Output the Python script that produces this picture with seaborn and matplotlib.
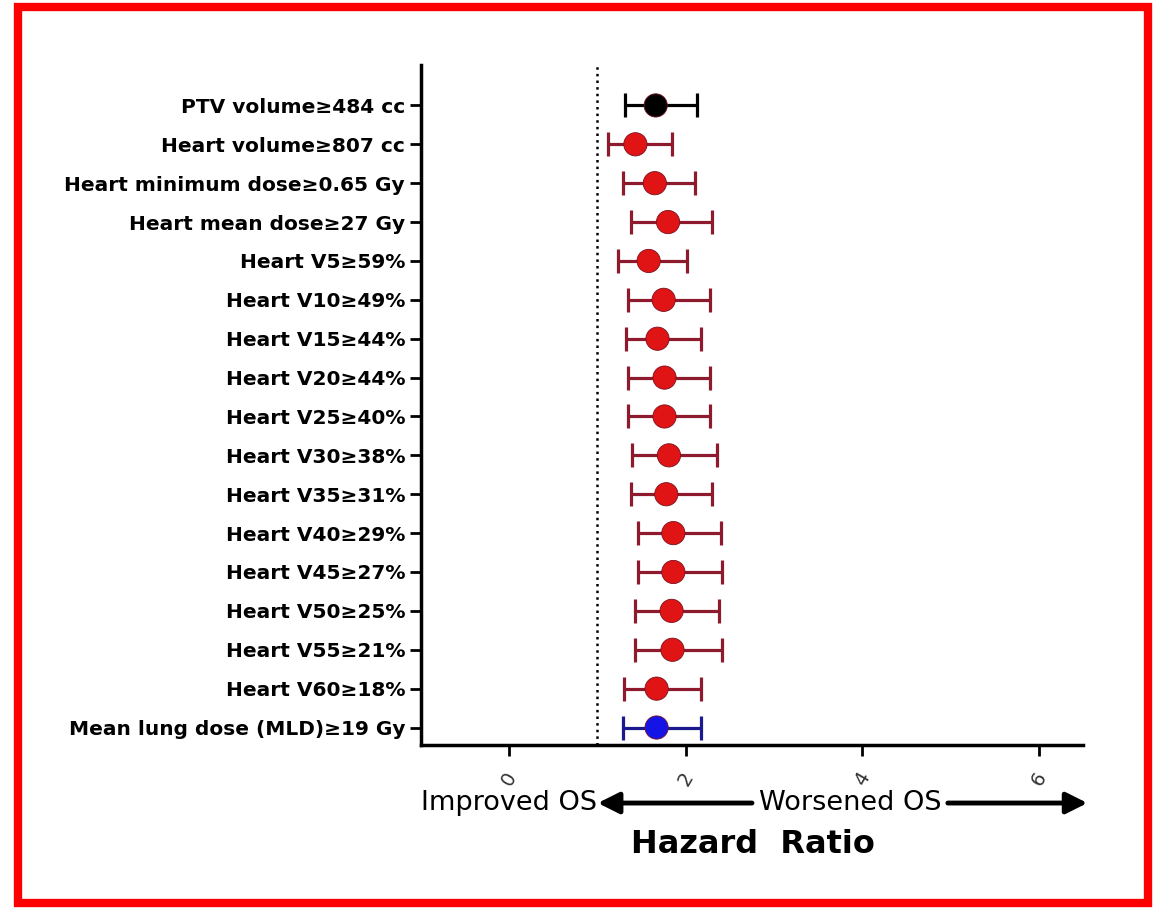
import pandas as pd
import matplotlib.pyplot as plt
import seaborn as sns
from matplotlib.patches import Rectangle

# datos
labels = ['PTV volume≥484 cc', 'Heart volume≥807 cc', 'Heart minimum dose≥0.65 Gy',
          'Heart mean dose≥27 Gy', 'Heart V5≥59%', 'Heart V10≥49%', 'Heart V15≥44%',
          'Heart V20≥44%', 'Heart V25≥40%', 'Heart V30≥38%', 'Heart V35≥31%',
          'Heart V40≥29%', 'Heart V45≥27%', 'Heart V50≥25%', 'Heart V55≥21%',
          'Heart V60≥18%', 'Mean lung dose (MLD)≥19 Gy']
hr = [1.66, 1.43, 1.65, 1.80, 1.58, 1.75, 1.68, 1.76, 1.76, 1.81, 1.78,
      1.86, 1.86, 1.84, 1.85, 1.67, 1.67]
ci_low = [1.31, 1.12, 1.29, 1.38, 1.23, 1.35, 1.32, 1.35, 1.35, 1.39, 1.38,
          1.46, 1.46, 1.43, 1.43, 1.30, 1.29]
ci_high = [2.13, 1.84, 2.11, 2.30, 2.02, 2.27, 2.17, 2.28, 2.28, 2.35, 2.30,
           2.40, 2.41, 2.38, 2.41, 2.17, 2.17]
grupo = ['PTV'] + ['Heart'] * 15 + ['Lung']
xticks = [0, 2, 4, 6]

df = pd.DataFrame({'label': labels, 'hr': hr, 'lo': ci_low, 'hi': ci_high, 'grupo': grupo})
df['pos'] = range(len(df))

fill = {'PTV': '#000000', 'Heart': '#e01414', 'Lung': '#1414e6'}
bar_col = {'PTV': '#000000', 'Heart': '#8e1a2e', 'Lung': '#1a1a8e'}

sns.set_style('ticks')
plt.rcParams['font.family'] = ['DejaVu Sans']
plt.rcParams['text.color'] = 'black'
plt.rcParams['xtick.color'] = 'black'
plt.rcParams['ytick.color'] = 'black'
plt.rcParams['axes.edgecolor'] = 'black'

fig = plt.figure(figsize=(11.63, 9.08), dpi=100)
ax = fig.add_axes([0.362, 0.1795, 0.569, 0.7485])

# línea de referencia HR = 1
ax.axvline(1, color='black', linestyle=':', lw=1.8, zorder=1)

for g, sub in df.groupby('grupo'):
    ax.errorbar(sub['hr'], sub['pos'],
                xerr=[sub['hr'] - sub['lo'], sub['hi'] - sub['hr']],
                fmt='none', ecolor=bar_col[g], elinewidth=2.3,
                capsize=8.5, capthick=2.3, zorder=2)

sns.scatterplot(data=df, x='hr', y='pos', hue='grupo', palette=fill, s=280,
                edgecolor='#7a1020', linewidth=0.6, legend=False, zorder=3, ax=ax)

ax.set_xlim(-1, 6.5)
ax.set_ylim(16.45, -1.03)
ax.set_yticks(df['pos'])
ax.set_yticklabels(labels, fontsize=14.5, fontweight='bold')
ax.set_xticks(xticks)
ax.set_xticklabels([str(t) for t in xticks], rotation=60, fontsize=14, color='#333333')
ax.set_xlabel('')
ax.set_ylabel('')
sns.despine(ax=ax)
for s in ['left', 'bottom']:
    ax.spines[s].set_linewidth(2.5)
ax.tick_params(axis='both', width=2, length=8)
ax.tick_params(axis='x', pad=9)

# flechas y textos inferiores
fig.text(0.4377, 0.1156, 'Improved OS', ha='center', va='center', fontsize=19.5)
fig.text(0.731, 0.1156, 'Worsened OS', ha='center', va='center', fontsize=19.5)
fig.text(0.647, 0.0694, 'Hazard  Ratio', ha='center', va='center', fontsize=23, fontweight='bold')
fig.add_artist(plt.Annotation('', xy=(0.514, 0.1156), xytext=(0.6466, 0.1156),
                              xycoords='figure fraction', textcoords='figure fraction',
                              arrowprops=dict(arrowstyle='-|>', lw=3.5, color='black', mutation_scale=32,
                                              shrinkA=0, shrinkB=0)))
fig.add_artist(plt.Annotation('', xy=(0.935, 0.1156), xytext=(0.815, 0.1156),
                              xycoords='figure fraction', textcoords='figure fraction',
                              arrowprops=dict(arrowstyle='-|>', lw=3.5, color='black', mutation_scale=32,
                                              shrinkA=0, shrinkB=0)))

# marco rojo
fig.patches.append(Rectangle((0.0155, 0.0055), 0.972, 0.987, transform=fig.transFigure,
                             fill=False, edgecolor='#ff0000', lw=6))

fig.savefig('out.png', dpi=100)
